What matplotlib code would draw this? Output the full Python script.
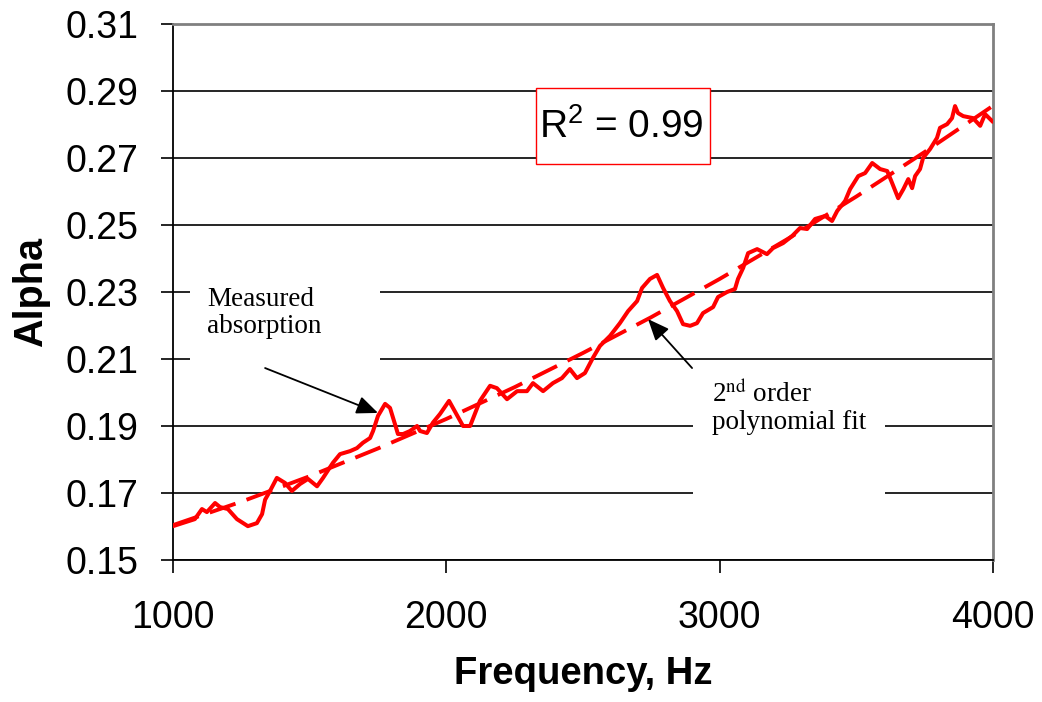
import matplotlib
matplotlib.use("Agg")
import matplotlib.pyplot as plt
from matplotlib.patches import Rectangle

# measured absorption
freq = [1000, 1080, 1106, 1124, 1154, 1172, 1201, 1234, 1274, 1307, 1326, 1337,
        1355, 1380, 1410, 1435, 1465, 1494, 1527, 1549, 1585, 1611, 1648, 1673,
        1695, 1721, 1732, 1750, 1776, 1794, 1812, 1823, 1842, 1867, 1893, 1904,
        1929, 1951, 1977, 2010, 2061, 2087, 2123, 2160, 2185, 2222, 2259, 2295,
        2317, 2354, 2390, 2423, 2452, 2478, 2507, 2536, 2562, 2599, 2635, 2665,
        2698, 2716, 2745, 2771, 2793, 2818, 2844, 2866, 2892, 2917, 2939, 2976,
        2994, 3027, 3056, 3067, 3086, 3104, 3137, 3173, 3195, 3232, 3265, 3294,
        3320, 3349, 3386, 3411, 3430, 3459, 3477, 3507, 3532, 3558, 3587, 3613,
        3631, 3653, 3672, 3690, 3704, 3715, 3733, 3744, 3770, 3795, 3806, 3832,
        3850, 3861, 3872, 3891, 3927, 3953, 3971, 3997]
alpha = [0.1601, 0.1622, 0.1652, 0.1643, 0.1670, 0.1658, 0.1652, 0.1622, 0.1601,
         0.1610, 0.1637, 0.1680, 0.1706, 0.1745, 0.1730, 0.1706, 0.1727, 0.1742,
         0.1720, 0.1745, 0.1790, 0.1816, 0.1825, 0.1834, 0.1850, 0.1864, 0.1885,
         0.1930, 0.1966, 0.1954, 0.1906, 0.1876, 0.1876, 0.1885, 0.1900, 0.1885,
         0.1879, 0.1910, 0.1936, 0.1975, 0.1900, 0.1900, 0.1975, 0.2020, 0.2013,
         0.1980, 0.2004, 0.2004, 0.2028, 0.2004, 0.2028, 0.2043, 0.2070, 0.2043,
         0.2058, 0.2103, 0.2139, 0.2169, 0.2207, 0.2243, 0.2273, 0.2312, 0.2339,
         0.2351, 0.2312, 0.2273, 0.2243, 0.2204, 0.2199, 0.2207, 0.2237, 0.2255,
         0.2285, 0.2300, 0.2309, 0.2339, 0.2372, 0.2416, 0.2428, 0.2413, 0.2431,
         0.2446, 0.2467, 0.2491, 0.2488, 0.2518, 0.2527, 0.2512, 0.2542, 0.2572,
         0.2607, 0.2646, 0.2655, 0.2685, 0.2667, 0.2661, 0.2625, 0.2580, 0.2607,
         0.2637, 0.2610, 0.2646, 0.2667, 0.2700, 0.2727, 0.2760, 0.2790, 0.2801,
         0.2819, 0.2855, 0.2834, 0.2825, 0.2819, 0.2796, 0.2831, 0.2810]

# 2nd order polynomial fit
fit_freq = [1000, 1250, 1500, 1750, 2000, 2250, 2500, 2750, 3000, 3250, 3500, 3750, 4000]
fit_alpha = [0.1604, 0.1674, 0.1750, 0.1833, 0.1921, 0.2016, 0.2118, 0.2225,
             0.2339, 0.2459, 0.2585, 0.2718, 0.2856]

x_ticks = [1000, 2000, 3000, 4000]
y_ticks = [0.15, 0.17, 0.19, 0.21, 0.23, 0.25, 0.27, 0.29, 0.31]

plt.rcParams['font.family'] = ['Liberation Sans', 'DejaVu Sans']
plt.rcParams['mathtext.fontset'] = 'custom'
plt.rcParams['mathtext.rm'] = 'Liberation Sans'
plt.rcParams['mathtext.it'] = 'Liberation Sans:italic'
plt.rcParams['mathtext.bf'] = 'Liberation Sans:bold'

fig = plt.figure(figsize=(10.42, 7.02), dpi=100)
ax = fig.add_axes([0.166, 0.2023, 0.787, 0.7635])

red = '#ff0000'
ax.plot(fit_freq, fit_alpha, color=red, lw=2.8, dashes=(7, 3), zorder=3)
ax.plot(freq, alpha, color=red, lw=2.9, solid_joinstyle='round', zorder=4)

ax.set_xlim(1000, 4000)
ax.set_ylim(0.15, 0.31)
ax.set_xticks(x_ticks)
ax.set_yticks(y_ticks)
ax.set_yticklabels([f"{v:.2f}" for v in y_ticks])
ax.tick_params(axis='both', labelsize=27, direction='out', length=9, width=1.2, color='black')
ax.tick_params(axis='y', pad=16)
ax.tick_params(axis='x', pad=20)

ax.grid(axis='y', color='black', lw=1.2)
ax.set_axisbelow(True)
for s in ['left', 'bottom']:
    ax.spines[s].set_color('black')
    ax.spines[s].set_linewidth(1.3)
for s in ['top', 'right']:
    ax.spines[s].set_color('#808080')
    ax.spines[s].set_linewidth(2)

ax.set_xlabel("Frequency, Hz", fontsize=27.5, fontweight='bold', labelpad=14)
ax.set_ylabel("Alpha", fontsize=28.5, fontweight='bold', labelpad=11)

# white boxes behind the notes, they hide the gridlines only
ax.add_patch(Rectangle((1062, 0.2091), 695, 0.0275, facecolor='white', edgecolor='none', zorder=2))
ax.add_patch(Rectangle((2902, 0.1679), 703, 0.0403, facecolor='white', edgecolor='none', zorder=2))

arrow = dict(arrowstyle='-|>,head_length=1.3,head_width=0.55',
             color='black', lw=1.3, shrinkA=0, shrinkB=0)

ax.text(1124, 0.2316, "Measured\nabsorption", family=['Liberation Serif'], fontsize=19.5,
        va='top', ha='left', linespacing=1.1, zorder=5)
ax.annotate("", xy=(1750, 0.1939), xytext=(1337, 0.2073), arrowprops=arrow, zorder=6)

ax.text(2972, 0.2036, "2$^{\\mathrm{nd}}$ order\npolynomial fit", family=['Liberation Serif'],
        math_fontfamily='stix', fontsize=19.5, va='top', ha='left', linespacing=1.1, zorder=5)
ax.annotate("", xy=(2738, 0.2219), xytext=(2899, 0.2073), arrowprops=arrow, zorder=6)

# R^2 box
ax.add_patch(Rectangle((2328, 0.2682), 637, 0.0227, facecolor='white', edgecolor=red,
                       lw=1, zorder=2))
ax.text(2642, 0.2794, "R$^{\\mathrm{2}}$ = 0.99", fontsize=28, ha='center', va='center', zorder=5)

fig.savefig("out.png", dpi=100)
